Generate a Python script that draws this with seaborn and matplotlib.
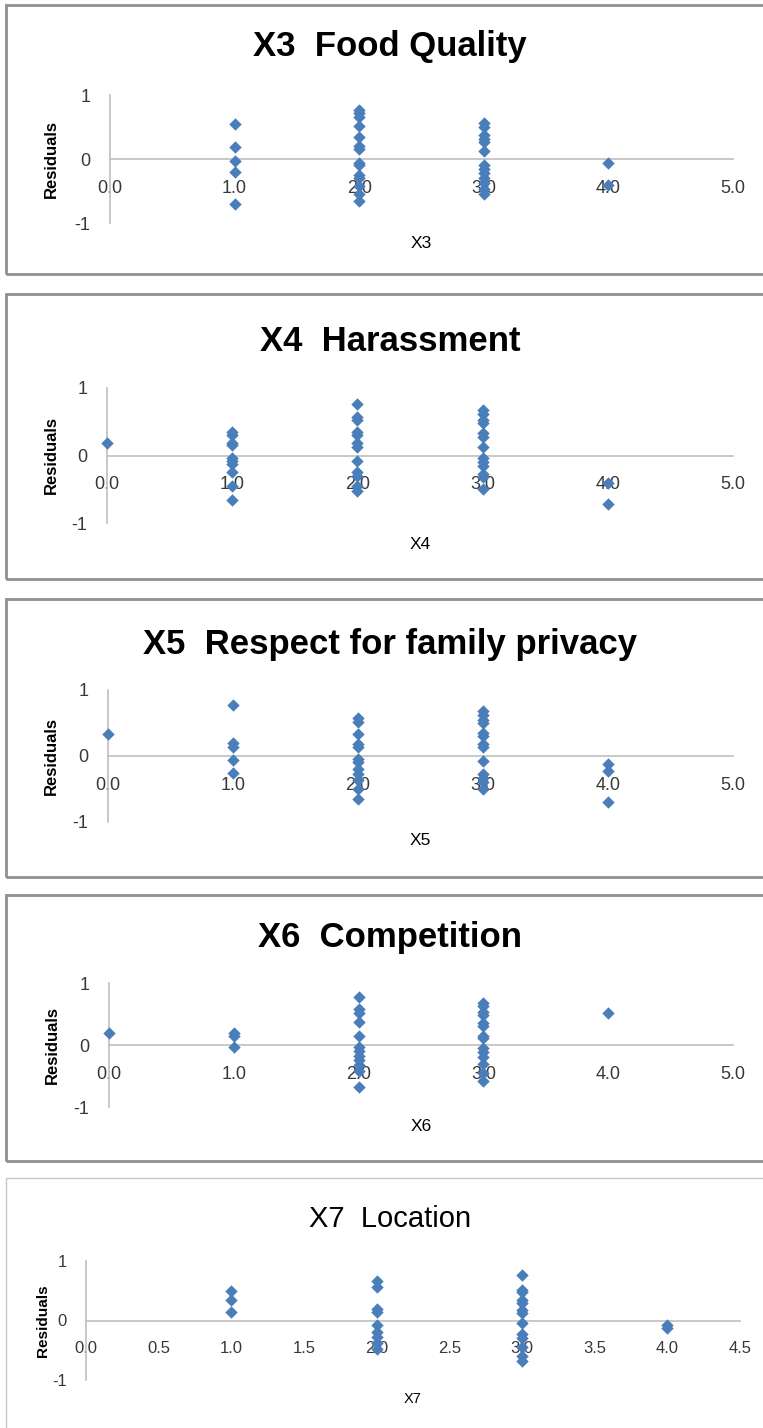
import matplotlib
matplotlib.use('Agg')
import matplotlib.pyplot as plt
import pandas as pd
import seaborn as sns
from matplotlib import font_manager
from matplotlib.patches import Rectangle

# residuals, grouped by predictor value
x3_resid = {
    1.0: [0.54, 0.18, -0.03, -0.20, -0.71],
    2.0: [0.77, 0.72, 0.65, 0.52, 0.35, 0.20, 0.15, -0.06, -0.10, -0.25, -0.30, -0.42, -0.55, -0.65],
    3.0: [0.56, 0.50, 0.37, 0.32, 0.27, 0.13, -0.10, -0.15, -0.22, -0.30, -0.38, -0.47, -0.55],
    4.0: [-0.07, -0.40],
}
x4_resid = {
    0.0: [0.19],
    1.0: [0.35, 0.31, 0.18, 0.15, -0.03, -0.08, -0.12, -0.25, -0.45, -0.66],
    2.0: [0.77, 0.57, 0.52, 0.35, 0.30, 0.18, 0.13, -0.08, -0.25, -0.30, -0.45, -0.52],
    3.0: [0.68, 0.62, 0.53, 0.48, 0.33, 0.27, 0.12, -0.03, -0.10, -0.15, -0.27, -0.32, -0.50],
    4.0: [-0.40, -0.72],
}
x5_resid = {
    0.0: [0.34],
    1.0: [0.77, 0.19, 0.14, -0.06, -0.26],
    2.0: [0.57, 0.52, 0.34, 0.18, 0.13, -0.04, -0.09, -0.20, -0.27, -0.36, -0.50, -0.65],
    3.0: [0.68, 0.62, 0.55, 0.50, 0.35, 0.30, 0.18, 0.13, -0.07, -0.27, -0.33, -0.40, -0.50],
    4.0: [-0.12, -0.22, -0.70],
}
x6_resid = {
    0.0: [0.19],
    1.0: [0.20, 0.15, -0.03],
    2.0: [0.78, 0.58, 0.52, 0.37, 0.15, -0.04, -0.10, -0.18, -0.24, -0.33, -0.42, -0.67],
    3.0: [0.68, 0.63, 0.53, 0.48, 0.35, 0.30, 0.15, 0.12, -0.05, -0.12, -0.20, -0.30, -0.45, -0.58],
    4.0: [0.52],
}
x7_resid = {
    1.0: [0.50, 0.34, 0.15],
    2.0: [0.66, 0.57, 0.20, 0.15, -0.07, -0.20, -0.27, -0.37, -0.48],
    3.0: [0.76, 0.52, 0.48, 0.35, 0.29, 0.18, 0.13, -0.04, -0.23, -0.30, -0.45, -0.60, -0.68],
    4.0: [-0.08, -0.12],
}

titles = ['X3  Food Quality', 'X4  Harassment', 'X5  Respect for family privacy',
          'X6  Competition', 'X7  Location']
xlabels = ['X3', 'X4', 'X5', 'X6', 'X7']
xticks_a = [0.0, 1.0, 2.0, 3.0, 4.0, 5.0]
xticks_b = [0.0, 0.5, 1.0, 1.5, 2.0, 2.5, 3.0, 3.5, 4.0, 4.5]
yticks = [-1, 0, 1]

W, H = 763, 1428
BLUE = '#4a7ebb'
AXIS_GRAY = '#bfbfbf'
TEXT_GRAY = '#383838'


def fx(px):
    return px / W


def fy(py):
    return 1 - py / H


def long_form(resid):
    rows = [(x, r) for x, vals in resid.items() for r in vals]
    return pd.DataFrame(rows, columns=['x', 'resid'])


sns.set_style('white')
plt.rcParams['font.family'] = ['Liberation Sans', 'DejaVu Sans']
plt.rcParams['axes.unicode_minus'] = False

names = {f.name for f in font_manager.fontManager.ttflist}
NARROW = 'Liberation Sans Narrow' if 'Liberation Sans Narrow' in names else 'Liberation Sans'

# pixel layout of each panel: frame top/bottom, axes box, title baseline, xlabel baseline
panels = [
    dict(data=x3_resid, frame=(5, 274), box=(110, 95, 733, 223), tb=56, xb=248, yl=51, last=False),
    dict(data=x4_resid, frame=(294, 579), box=(107, 388, 733, 523), tb=351, xb=549, yl=51, last=False),
    dict(data=x5_resid, frame=(599, 877), box=(108, 690, 733, 822), tb=654, xb=845, yl=51, last=False),
    dict(data=x6_resid, frame=(895, 1161), box=(109, 983, 733, 1107), tb=947, xb=1131, yl=52, last=False),
    dict(data=x7_resid, frame=(1178, 1445), box=(86, 1261, 740, 1380), tb=1227, xb=1403, yl=43, last=True),
]

fig = plt.figure(figsize=(W / 100, H / 100), dpi=100)

for i, p in enumerate(panels):
    top, bot = p['frame']
    last = p['last']
    fig.patches.append(Rectangle((fx(6), fy(bot)), 1.2, (bot - top) / H, transform=fig.transFigure,
                                 fill=False, edgecolor='#c8c8c8' if last else '#8f8f8f',
                                 linewidth=1.0 if last else 2.0, zorder=0))

    l, t, r, b = p['box']
    ax = fig.add_axes([fx(l), fy(b), fx(r) - fx(l), (b - t) / H])
    df = long_form(p['data'])
    sns.scatterplot(data=df, x='x', y='resid', ax=ax, marker='D', s=40, color=BLUE,
                    linewidth=0, zorder=3, clip_on=False, legend=False)

    xt = xticks_b if last else xticks_a
    ax.set_xlim(xt[0], xt[-1])
    ax.set_ylim(-1, 1)
    ax.set_xticks(xt)
    ax.set_xticklabels([f'{v:.1f}' for v in xt])
    ax.set_yticks(yticks)
    ax.set_yticklabels([str(v) for v in yticks])
    ax.set_xlabel('')
    ax.set_ylabel('')

    for side in ['top', 'right']:
        ax.spines[side].set_visible(False)
    ax.spines['bottom'].set_position(('data', 0))
    for side in ['bottom', 'left']:
        ax.spines[side].set_color(AXIS_GRAY)
        ax.spines[side].set_linewidth(1.2)

    tick_font = dict(family=NARROW, size=12) if last else dict(family='Liberation Sans', size=13)
    ax.tick_params(axis='x', direction='out', length=3, width=1, color=AXIS_GRAY,
                   pad=12, labelcolor=TEXT_GRAY)
    ax.tick_params(axis='y', direction='out', length=4, width=1, color=AXIS_GRAY,
                   pad=10, labelcolor=TEXT_GRAY)
    for lab in ax.get_xticklabels() + ax.get_yticklabels():
        lab.set_fontfamily(tick_font['family'])
        lab.set_fontsize(tick_font['size'])

    fig.text(fx(390), fy(p['tb']), titles[i], ha='center', va='baseline',
             fontsize=21 if last else 25, fontweight='normal' if last else 'bold', color='black')
    fig.text(fx((l + r) / 2), fy(p['xb']), xlabels[i], ha='center', va='baseline',
             fontsize=10.5 if last else 12.5, color='black', family=NARROW if last else 'Liberation Sans')
    fig.text(fx(p['yl']), fy((t + b) / 2), 'Residuals', rotation=90, ha='center', va='center',
             fontsize=11 if last else 12, fontweight='bold', color='black')

fig.savefig('out.png', dpi=100)
